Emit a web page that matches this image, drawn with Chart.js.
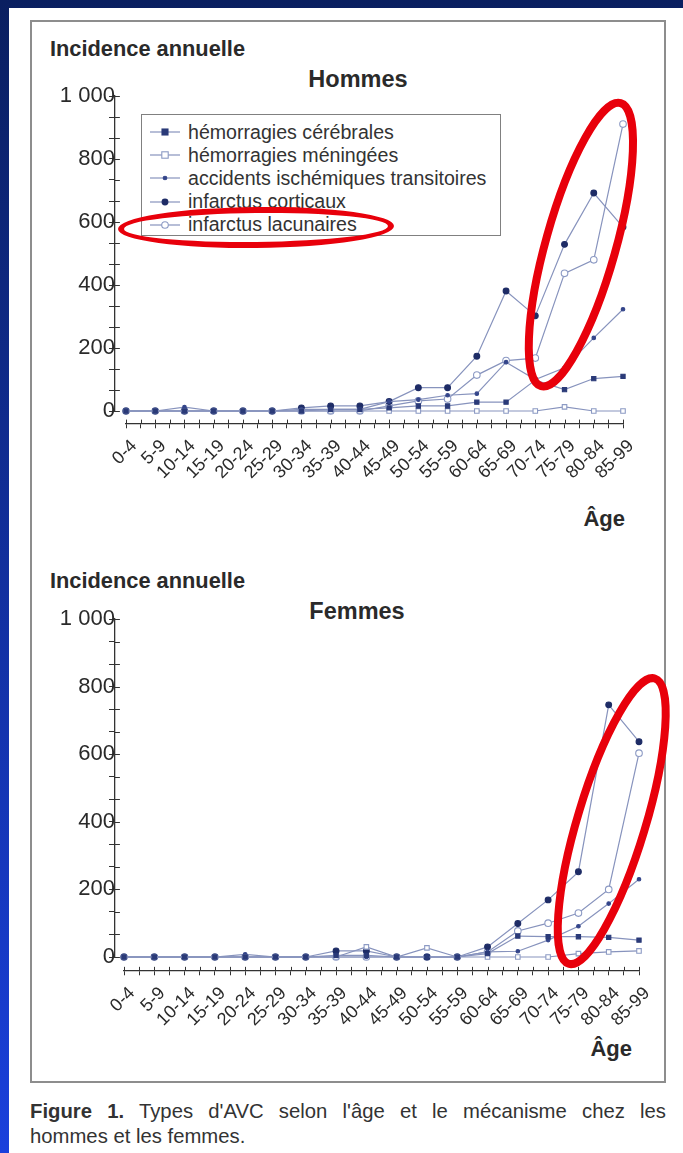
<!DOCTYPE html>
<html>
<head>
<meta charset="utf-8">
<script src="https://cdn.jsdelivr.net/npm/chart.js"></script>
<style>
html,body{margin:0;padding:0;}
body{width:683px;height:1153px;position:relative;overflow:hidden;background:linear-gradient(#0a1f60,#1a40dc);font-family:"Liberation Sans",Arial,Helvetica,sans-serif;color:#2a2a2a;}
#paper{position:absolute;left:9px;top:8px;right:0;bottom:0;background:#fff;}
#box{position:absolute;left:30px;top:20px;width:632px;height:1059px;border:2px solid #8d8d8d;}
.t{position:absolute;white-space:nowrap;line-height:1;}
.b{font-weight:bold;}
canvas{position:absolute;left:30px;}
.legend{position:absolute;left:141px;top:114px;width:360px;height:122px;border:1.6px solid #808080;box-sizing:border-box;background:#fff;}
.legend .row{position:absolute;left:8px;height:22px;display:flex;align-items:center;font-size:19.6px;color:#333;}
.legend svg{margin-right:8px;}
#ring{position:absolute;left:118px;top:207px;width:276px;height:41px;box-sizing:border-box;border:6.5px solid #e8000b;border-radius:50%;transform:rotate(-0.6deg);}
.cap{position:absolute;left:30px;width:636px;font-size:20.3px;line-height:25px;color:#333;white-space:nowrap;}
#cap1{top:1099px;text-align:justify;text-align-last:justify;white-space:normal;}
#cap2{top:1124px;}
</style>
</head>
<body>
<div id="paper"></div>
<div id="box"></div>

<div class="t b" style="left:50px;top:38px;font-size:21.8px;">Incidence annuelle</div>
<div class="t b" style="left:258px;width:200px;text-align:center;top:68px;font-size:23.5px;">Hommes</div>
<div class="t b" style="left:525px;width:100px;text-align:right;top:508px;font-size:22px;">Âge</div>

<div class="t b" style="left:50px;top:570px;font-size:21.8px;">Incidence annuelle</div>
<div class="t b" style="left:257px;width:200px;text-align:center;top:600px;font-size:23.5px;">Femmes</div>
<div class="t b" style="left:532px;width:100px;text-align:right;top:1038px;font-size:22px;">Âge</div>

<canvas id="c1" width="653" height="480" style="top:60px;"></canvas>
<canvas id="c2" width="653" height="500" style="top:580px;"></canvas>

<div class="legend" id="legend"></div>
<div id="ring"></div>

<div class="cap" id="cap1"><b>Figure 1.</b> Types d'AVC selon l'âge et le mécanisme chez les</div>
<div class="cap" id="cap2">hommes et les femmes.</div>

<script>
// ---------- data ----------
const ageGroups = ['0-4','5-9','10-14','15-19','20-24','25-29','30-34','35-39','40-44','45-49','50-54','55-59','60-64','65-69','70-74','75-79','80-84','85-99'];
const seriesNames = ['hémorragies cérébrales','hémorragies méningées','accidents ischémiques transitoires','infarctus corticaux','infarctus lacunaires'];
const yTickValues = [0,200,400,600,800,1000];
const yTickLabels = ['0','200','400','600','800','1 000'];

// Hommes
const hommesCerebrales = [0,0,0,0,0,0,0,5,5,10,16,16,28,28,98,68,103,110];
const hommesMeningees  = [0,0,0,0,0,0,0,0,0,0,0,0,0,0,0,13,0,0];
const hommesAIT        = [0,0,12,0,0,0,5,5,5,30,36,50,55,155,100,137,232,323];
const hommesCorticaux  = [0,0,0,0,0,0,10,16,16,30,74,74,174,381,302,529,692,584];
const hommesLacunaires = [0,0,0,0,0,0,0,0,0,16,32,38,114,160,168,437,480,911];

// Femmes
const femmesCerebrales = [0,0,0,0,0,0,0,5,5,0,0,0,10,62,60,60,58,50];
const femmesMeningees  = [0,0,0,0,0,0,0,0,30,0,27,0,0,0,0,10,15,18];
const femmesAIT        = [0,0,0,0,8,0,0,0,0,0,0,0,15,17,50,91,158,230];
const femmesCorticaux  = [0,0,0,0,0,0,0,18,18,0,0,0,30,99,169,252,746,637];
const femmesLacunaires = [0,0,0,0,0,0,0,0,0,0,0,0,15,77,100,130,200,603];

// ---------- styles ----------
const LINE = '#8793bd';
const markerStyles = [
  {style:'rect',   radius:3.0, fill:'#2a3a78', stroke:'#2a3a78'},
  {style:'rect',   radius:3.2, fill:'#ffffff', stroke:'#8c9ac4'},
  {style:'circle', radius:1.8, fill:'#34458a', stroke:'#34458a'},
  {style:'circle', radius:2.9, fill:'#1e2c66', stroke:'#1e2c66'},
  {style:'circle', radius:3.3, fill:'#ffffff', stroke:'#8c9ac4'}
];
const FONT = '"Liberation Sans", Arial, sans-serif';
const TXT = '#2a2a2a';

// legend
const legendEl = document.getElementById('legend');
seriesNames.forEach((name, i) => {
  const m = markerStyles[i];
  const r = m.radius;
  const mk = m.style === 'rect'
    ? `<rect x="${15-r}" y="${7-r}" width="${2*r}" height="${2*r}" fill="${m.fill}" stroke="${m.stroke}" stroke-width="1.1"/>`
    : `<circle cx="15" cy="7" r="${r}" fill="${m.fill}" stroke="${m.stroke}" stroke-width="1.1"/>`;
  const row = document.createElement('div');
  row.className = 'row';
  row.style.top = (6 + i * 23.2) + 'px';
  row.innerHTML = `<svg width="30" height="14"><line x1="0" y1="7" x2="30" y2="7" stroke="${LINE}" stroke-width="1.2"/>${mk}</svg><span>${name}</span>`;
  legendEl.appendChild(row);
});

function xTicks(){
  const t = [];
  for (let i = 0; i < ageGroups.length - 1; i++) { t.push(i, i + 0.5); }
  t.push(ageGroups.length - 1);
  return t.map(v => ({value: v}));
}
function yTicks(){
  const t = [];
  for (let i = 0; i < yTickValues.length; i++) {
    t.push(yTickValues[i]);
    if (i < yTickValues.length - 1) {
      const step = (yTickValues[i+1] - yTickValues[i]) / 3;
      t.push(yTickValues[i] + step, yTickValues[i] + 2 * step);
    }
  }
  return t.map(v => ({value: v}));
}

const crossTicks = {
  id: 'crossTicks',
  afterDraw(chart, args, opts) {
    const {ctx} = chart;
    const xs = chart.scales.x, ys = chart.scales.y;
    const axisY = ys.getPixelForValue(opts.xAxisAt);
    const axisX = xs.getPixelForValue(opts.yAxisAt);
    ctx.save();
    ctx.strokeStyle = '#333';
    ctx.lineWidth = 1;
    ctx.beginPath();
    xs.ticks.forEach(t => {
      const px = Math.round(xs.getPixelForValue(t.value)) + 0.5;
      ctx.moveTo(px, axisY); ctx.lineTo(px, axisY - 4);
    });
    ys.ticks.forEach(t => {
      const py = Math.round(ys.getPixelForValue(t.value)) + 0.5;
      ctx.moveTo(axisX, py); ctx.lineTo(axisX + 5, py);
    });
    ctx.stroke();
    ctx.restore();
  }
};

const ellipsePlugin = {
  id: 'ellipseMark',
  afterDraw(chart, args, opts) {
    const {ctx} = chart;
    const cx = chart.scales.x.getPixelForValue(opts.x);
    const cy = chart.scales.y.getPixelForValue(opts.y);
    ctx.save();
    ctx.beginPath();
    ctx.ellipse(cx, cy, opts.rx, opts.ry, opts.rot * Math.PI / 180, 0, Math.PI * 2);
    ctx.lineWidth = 8;
    ctx.strokeStyle = '#e8000b';
    ctx.stroke();
    ctx.restore();
  }
};

function makeChart(id, series, cfg) {
  const datasets = series.map((vals, i) => ({
    label: seriesNames[i],
    data: vals,
    borderColor: LINE,
    borderWidth: 1.2,
    pointStyle: markerStyles[i].style,
    pointRadius: markerStyles[i].radius,
    pointBackgroundColor: markerStyles[i].fill,
    pointBorderColor: markerStyles[i].stroke,
    pointBorderWidth: 1.1,
    tension: 0,
    clip: false
  }));
  return new Chart(document.getElementById(id), {
    type: 'line',
    data: { labels: ageGroups.map((_, i) => i), datasets },
    options: {
      responsive: false,
      animation: false,
      layout: { padding: cfg.padding },
      plugins: {
        legend: { display: false },
        tooltip: { enabled: false },
        crossTicks: { xAxisAt: cfg.xAxisAt, yAxisAt: cfg.yAxisAt },
        ellipseMark: cfg.ellipse
      },
      scales: {
        x: {
          type: 'linear', min: 0, max: ageGroups.length - 1,
          position: { y: cfg.xAxisAt },
          afterBuildTicks: s => { s.ticks = xTicks(); },
          grid: { drawOnChartArea: false, drawTicks: true, tickLength: 4, color: '#333', lineWidth: 1 },
          border: { display: true, color: '#333', width: 1.3 },
          ticks: {
            autoSkip: false, maxRotation: 45, minRotation: 45, padding: 8, labelOffset: 8,
            color: TXT, font: { family: FONT, size: 18 },
            callback: v => Number.isInteger(v) ? ageGroups[v] : ''
          }
        },
        y: {
          type: 'linear', min: 0, max: 1000,
          position: { x: cfg.yAxisAt },
          afterBuildTicks: s => { s.ticks = yTicks(); },
          grid: { drawOnChartArea: false, drawTicks: true, tickLength: 5, color: '#333', lineWidth: 1 },
          border: { display: true, color: '#333', width: 1.3 },
          ticks: {
            autoSkip: false, padding: 5, color: TXT, font: { family: FONT, size: 22 },
            callback: v => {
              const k = yTickValues.findIndex(t => Math.abs(t - v) < 1e-6);
              return k >= 0 ? yTickLabels[k] : '';
            }
          }
        }
      }
    },
    plugins: [crossTicks, ellipsePlugin]
  });
}

makeChart('c1',
  [hommesCerebrales, hommesMeningees, hommesAIT, hommesCorticaux, hommesLacunaires],
  { padding: {left: 96, right: 60, top: 36, bottom: 129},
    xAxisAt: -40, yAxisAt: -0.38,
    ellipse: { x: 15.56, y: 528, rx: 35, ry: 147, rot: 15.7 } });

makeChart('c2',
  [femmesCerebrales, femmesMeningees, femmesAIT, femmesCorticaux, femmesLacunaires],
  { padding: {left: 94, right: 44, top: 39, bottom: 123},
    xAxisAt: -41, yAxisAt: -0.30,
    ellipse: { x: 16.1, y: 402, rx: 34, ry: 149, rot: 16.8 } });
</script>
</body>
</html>
